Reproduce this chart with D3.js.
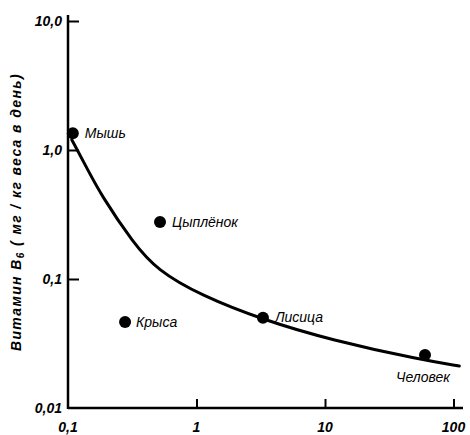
<!DOCTYPE html>
<html>
<head>
<meta charset="utf-8">
<script src="https://cdn.jsdelivr.net/npm/d3@7"></script>
<style>
  html, body { margin: 0; padding: 0; background: #fff; }
  svg { display: block; }
  text { font-family: "Liberation Sans", "DejaVu Sans", sans-serif; font-style: italic; fill: #000; }
</style>
</head>
<body>
<svg id="chart" width="470" height="435"></svg>
<script>
// Body mass (kg) and vitamin B6 requirement (mg/kg body weight per day)
const species = ["Мышь", "Цыплёнок", "Крыса", "Лисица", "Человек"];
const bodyMass = [0.109, 0.52, 0.278, 3.29, 60];
const b6Need = [1.35, 0.277, 0.0465, 0.050, 0.0258];

// Fitted trend line
const trendMass = [0.107, 0.143, 0.178, 0.322, 0.496, 1.07, 3.34, 11.1, 56, 111];
const trendNeed = [1.20, 0.70, 0.46, 0.19, 0.117, 0.075, 0.048, 0.0337, 0.0236, 0.0212];

// Axis ticks
const xTicks = [0.1, 1, 10, 100];
const xTickLabels = ["0,1", "1", "10", "100"];
const yTicks = [0.01, 0.1, 1, 10];
const yTickLabels = ["0,01", "0,1", "1,0", "10,0"];

const svg = d3.select("#chart");
const x = d3.scaleLog().domain([0.1, 100]).range([68, 453.5]);
const y = d3.scaleLog().domain([0.01, 10]).range([408, 21]);

// Axes: ticks point inward, labels drawn separately
const xAxis = d3.axisBottom(x).tickValues(xTicks).tickSize(-9).tickFormat("");
const yAxis = d3.axisLeft(y).tickValues(yTicks).tickSize(-11).tickFormat("");

const gx = svg.append("g").attr("transform", `translate(0,${y(0.01)})`).call(xAxis);
const gy = svg.append("g").attr("transform", `translate(${x(0.1)},0)`).call(yAxis);
[gx, gy].forEach(g => {
  g.selectAll("path.domain").remove();
  g.selectAll(".tick line").attr("stroke", "#000").attr("stroke-width", 2);
});
gx.selectAll(".tick").filter(d => d === 0.1).remove();
gy.selectAll(".tick").filter(d => d === 0.01).remove();

// Axis lines
svg.append("line").attr("x1", x(0.1)).attr("x2", 463).attr("y1", y(0.01)).attr("y2", y(0.01))
  .attr("stroke", "#000").attr("stroke-width", 2.5);
svg.append("line").attr("x1", x(0.1)).attr("x2", x(0.1)).attr("y1", y(0.01) + 1).attr("y2", 15)
  .attr("stroke", "#000").attr("stroke-width", 2.5);

// Tick labels
svg.append("g").selectAll("text").data(xTicks).join("text")
  .attr("x", d => x(d)).attr("y", 432)
  .attr("text-anchor", "middle")
  .attr("font-size", 14).attr("font-weight", "bold")
  .text((d, i) => xTickLabels[i]);

svg.append("g").selectAll("text").data(yTicks).join("text")
  .attr("x", 62).attr("y", d => y(d) + 5)
  .attr("text-anchor", "end")
  .attr("font-size", 14).attr("font-weight", "bold")
  .text((d, i) => yTickLabels[i]);

// Y axis title
const title = svg.append("text")
  .attr("transform", "translate(21,212) rotate(-90)")
  .attr("text-anchor", "middle")
  .attr("font-size", 14).attr("font-weight", "bold")
  .attr("letter-spacing", 1.4);
title.append("tspan").text("Витамин B");
title.append("tspan").attr("font-size", 10).attr("dy", 3).text("6");
title.append("tspan").attr("dy", -3).text(" ( мг / кг веса в день)");

// Trend curve
const trend = trendMass.map((m, i) => [m, trendNeed[i]]);
svg.append("path")
  .datum(trend)
  .attr("fill", "none").attr("stroke", "#000").attr("stroke-width", 3)
  .attr("stroke-linecap", "round")
  .attr("d", d3.line().x(d => x(d[0])).y(d => y(d[1])).curve(d3.curveBasis));

// Species points and labels
const pts = species.map((s, i) => ({ name: s, m: bodyMass[i], v: b6Need[i] }));
svg.append("g").selectAll("circle").data(pts).join("circle")
  .attr("cx", d => x(d.m)).attr("cy", d => y(d.v)).attr("r", 6).attr("fill", "#000");

const labelPos = {
  "Мышь": { dx: 12, dy: 5, anchor: "start" },
  "Цыплёнок": { dx: 12, dy: 5, anchor: "start" },
  "Крыса": { dx: 11, dy: 5, anchor: "start" },
  "Лисица": { dx: 12, dy: 4, anchor: "start" },
  "Человек": { dx: -2, dy: 27, anchor: "middle" }
};
svg.append("g").selectAll("text").data(pts).join("text")
  .attr("x", d => x(d.m) + labelPos[d.name].dx)
  .attr("y", d => y(d.v) + labelPos[d.name].dy)
  .attr("text-anchor", d => labelPos[d.name].anchor)
  .attr("font-size", 14)
  .text(d => d.name);
</script>
</body>
</html>
